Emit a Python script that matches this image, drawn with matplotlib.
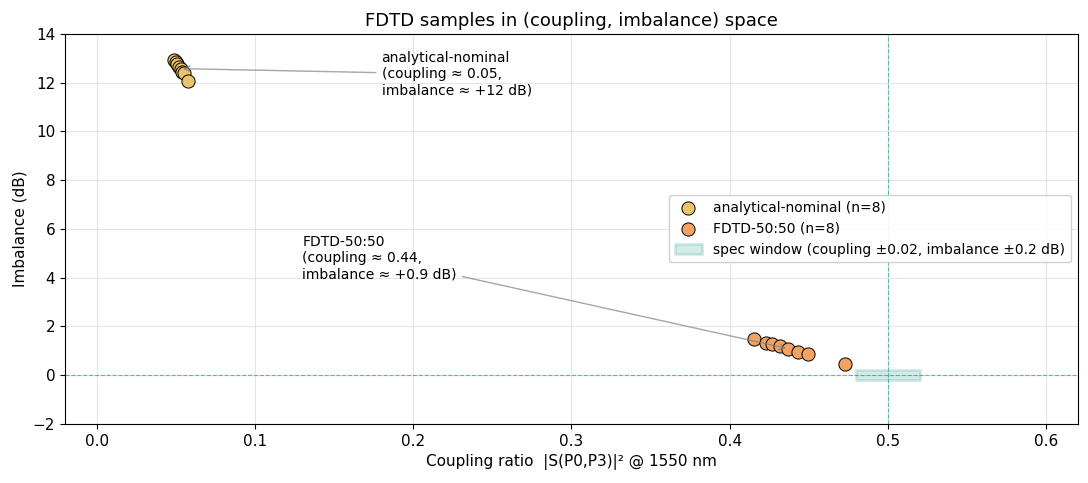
import matplotlib
matplotlib.use("Agg")
import matplotlib.pyplot as plt
from matplotlib.patches import Rectangle
import numpy as np

# Data
analytical_coupling = [0.049, 0.050, 0.051, 0.052, 0.053, 0.054, 0.055, 0.058]
analytical_imbalance = [12.92, 12.85, 12.75, 12.65, 12.55, 12.45, 12.40, 12.07]
fdtd_coupling = [0.415, 0.423, 0.427, 0.432, 0.437, 0.443, 0.4495, 0.473]
fdtd_imbalance = [1.49, 1.32, 1.28, 1.20, 1.08, 0.96, 0.87, 0.46]
target_coupling = 0.5
target_imbalance = 0.0
tol_coupling = 0.02
tol_imbalance = 0.2

c_ana = "#E9C46A"
c_fdtd = "#F4A261"
c_teal = "#2A9D8F"

fig = plt.figure(figsize=(10.88, 4.83), dpi=100)
ax = fig.add_axes([0.0597, 0.1222, 0.9311, 0.8074])

ax.grid(True, color="#e0e0e0", linewidth=0.8, alpha=0.8)
ax.set_axisbelow(True)

ax.axhline(target_imbalance, color=c_teal, linestyle="--", linewidth=0.8, alpha=0.7)
ax.axvline(target_coupling, color=c_teal, linestyle="--", linewidth=0.8, alpha=0.7)

rect = Rectangle((target_coupling - tol_coupling, target_imbalance - tol_imbalance),
                 2 * tol_coupling, 2 * tol_imbalance,
                 facecolor=c_teal, alpha=0.2, edgecolor=c_teal, linewidth=2,
                 label="spec window (coupling \u00b10.02, imbalance \u00b10.2 dB)")
ax.add_patch(rect)

ax.scatter(analytical_coupling, analytical_imbalance, s=90, color=c_ana,
           edgecolor="black", linewidth=0.7, zorder=3,
           label=f"analytical-nominal (n={len(analytical_coupling)})")
ax.scatter(fdtd_coupling, fdtd_imbalance, s=90, color=c_fdtd,
           edgecolor="black", linewidth=0.7, zorder=3,
           label=f"FDTD-50:50 (n={len(fdtd_coupling)})")

ax.annotate("analytical-nominal\n(coupling \u2248 0.05,\nimbalance \u2248 +12 dB)",
            xy=(np.mean(analytical_coupling), np.mean(analytical_imbalance)),
            xytext=(0.18, 12.35), va="center", ha="left", fontsize=10,
            arrowprops=dict(arrowstyle="->", color="gray", alpha=0.7, lw=1))
ax.annotate("FDTD-50:50\n(coupling \u2248 0.44,\nimbalance \u2248 +0.9 dB)",
            xy=(np.mean(fdtd_coupling), np.mean(fdtd_imbalance)),
            xytext=(0.13, 4.8), va="center", ha="left", fontsize=10,
            arrowprops=dict(arrowstyle="->", color="gray", alpha=0.7, lw=1))

ax.set_xlim(-0.02, 0.62)
ax.set_ylim(-2, 14)
ax.set_yticks(np.arange(-2, 15, 2))
ax.set_xlabel("Coupling ratio  |S(P0,P3)|\u00b2 @ 1550 nm", fontsize=11)
ax.set_ylabel("Imbalance (dB)", fontsize=11)
ax.set_title("FDTD samples in (coupling, imbalance) space", fontsize=13)
ax.tick_params(labelsize=11)

h, l = ax.get_legend_handles_labels()
order = [1, 2, 0]
ax.legend([h[i] for i in order], [l[i] for i in order], loc="center right",
          fontsize=10, framealpha=0.9)

fig.savefig("out.png", dpi=100)
